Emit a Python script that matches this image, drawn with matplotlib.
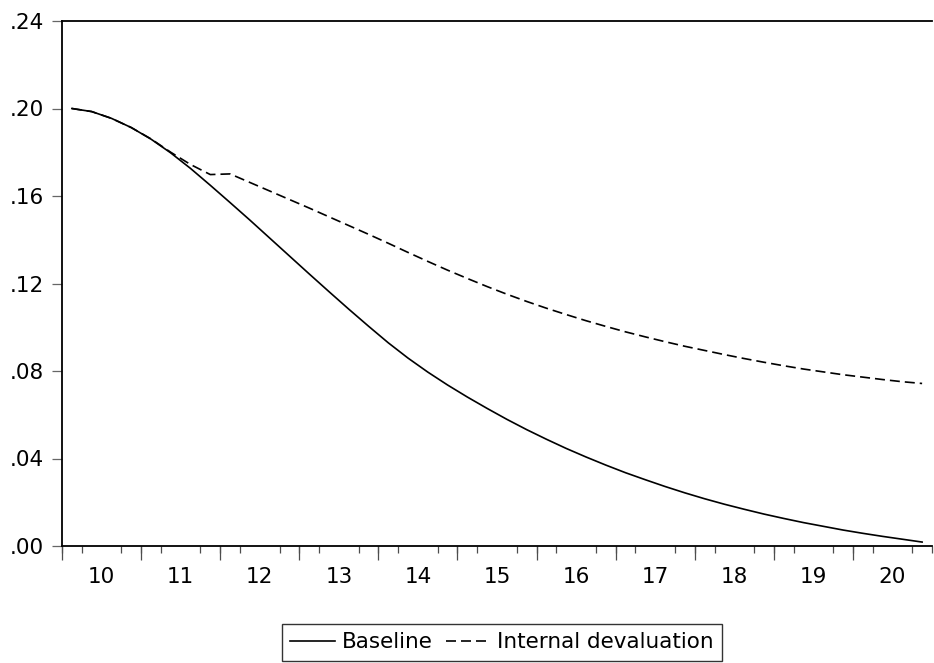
import matplotlib
matplotlib.use("Agg")
import matplotlib.pyplot as plt
import numpy as np

# quarterly data, 2010Q1 .. 2020Q4
years = ["10", "11", "12", "13", "14", "15", "16", "17", "18", "19", "20"]

baseline = [
    0.2000, 0.1986, 0.1955, 0.1913, 0.1860, 0.1797, 0.1726, 0.1649, 0.1570, 0.1490,
    0.1408, 0.1326, 0.1244, 0.1163, 0.1083, 0.1005, 0.0929, 0.0859, 0.0795, 0.0736,
    0.0681, 0.0629, 0.0579, 0.0532, 0.0488, 0.0446, 0.0407, 0.0370, 0.0335, 0.0303,
    0.0272, 0.0243, 0.0216, 0.0191, 0.0168, 0.0146, 0.0126, 0.0107, 0.0090, 0.0073,
    0.0058, 0.0044, 0.0031, 0.0018,
]
devaluation = [
    0.2000, 0.1986, 0.1955, 0.1913, 0.1861, 0.1800, 0.1744, 0.1698, 0.1701, 0.1662,
    0.1623, 0.1584, 0.1545, 0.1505, 0.1465, 0.1425, 0.1384, 0.1342, 0.1301, 0.1261,
    0.1223, 0.1186, 0.1151, 0.1118, 0.1087, 0.1058, 0.1030, 0.1004, 0.0979, 0.0956,
    0.0934, 0.0913, 0.0894, 0.0875, 0.0857, 0.0840, 0.0824, 0.0809, 0.0796, 0.0783,
    0.0772, 0.0761, 0.0751, 0.0743,
]
y_ticks = [0.00, 0.04, 0.08, 0.12, 0.16, 0.20, 0.24]
y_labels = [".00", ".04", ".08", ".12", ".16", ".20", ".24"]

plt.rcParams["font.family"] = ["DejaVu Sans"]
FS = 15.5

fig = plt.figure(figsize=(9.34, 6.63), dpi=100)
ax = fig.add_axes([62 / 934, 1 - 546 / 663, 870 / 934, 525 / 663])

q = np.arange(len(baseline))
ax.plot(q, baseline, color="black", linewidth=1.2, label="Baseline")
ax.plot(q, devaluation, color="black", linewidth=1.2, linestyle=(0, (6, 3)),
        label="Internal devaluation")

ax.set_xlim(-0.5, len(baseline) - 1)
ax.set_ylim(0, 0.24)

# year labels centred in each year, no tick marks
centers = np.arange(len(years)) * 4 + 1.5
ax.set_xticks(centers, years)
ax.tick_params(axis="x", which="major", length=0, pad=15, labelsize=FS)
# quarter boundaries as short minor ticks
ax.set_xticks(np.arange(-0.5, len(baseline), 1), minor=True)
ax.tick_params(axis="x", which="minor", length=5, width=0.9, color="0.3")

# longer ticks at year boundaries
sec = ax.secondary_xaxis("bottom")
sec.set_xticks(np.arange(len(years)) * 4 - 0.5)
sec.tick_params(length=10, width=0.9, color="0.3", labelbottom=False)
sec.spines["bottom"].set_visible(False)

ax.set_yticks(y_ticks, y_labels)
ax.tick_params(axis="y", length=7, width=0.9, color="0.4", pad=6, labelsize=FS)

ax.spines["right"].set_visible(False)
for s in ["left", "top", "bottom"]:
    ax.spines[s].set_linewidth(1.3)

leg = fig.legend(loc="lower center", bbox_to_anchor=(502 / 934, 0.0), ncol=2,
                 frameon=True, fancybox=False, fontsize=FS, handlelength=2.1,
                 handletextpad=0.3, columnspacing=0.6, borderpad=0.4,
                 borderaxespad=0.1)
leg.get_frame().set_edgecolor("black")
leg.get_frame().set_linewidth(1.0)

fig.savefig("out.png", dpi=100)
